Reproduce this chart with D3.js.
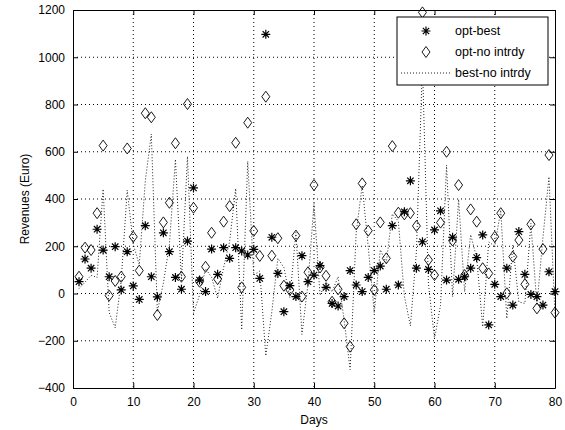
<!DOCTYPE html>
<html>
<head>
<meta charset="utf-8">
<script src="https://cdn.jsdelivr.net/npm/d3@7"></script>
<style>
    body { margin: 0; background: #fff; }
    #chart { width: 565px; height: 430px; }
    text { font-family: "Liberation Sans", Arial, sans-serif; fill: #000; }
</style>
</head>
<body>
<div id="chart"></div>
<script>

// days 1..80
let days = [1,2,3,4,5,6,7,8,9,10,11,12,13,14,15,16,17,18,19,20,
    21,22,23,24,25,26,27,28,29,30,31,32,33,34,35,36,37,38,39,40,
    41,42,43,44,45,46,47,48,49,50,51,52,53,54,55,56,57,58,59,60,
    61,62,63,64,65,66,67,68,69,70,71,72,73,74,75,76,77,78,79,80];

// opt-best (stars)
let optBest = [50,146,107,272,184,71,198,15,177,32,-25,287,71,-14,257,177,68,18,222,447,
    57,8,188,81,194,149,194,180,163,187,64,1097,238,85,-77,33,-13,160,50,78,
    118,26,-42,-53,-13,97,36,8,68,97,116,18,287,36,346,477,107,219,102,269,
    350,57,238,60,71,107,152,248,-133,39,-13,107,-49,262,81,-4,-13,-49,92,8];

// opt-no intrdy (diamonds)
let optNoIntrdy = [71,194,184,340,626,-9,53,71,614,240,97,763,746,-91,301,384,636,71,802,363,
    50,113,257,61,304,370,638,26,723,265,159,833,160,234,33,15,245,-13,90,459,
    110,75,-35,18,-126,-225,293,466,266,15,301,149,624,342,335,340,286,1190,142,78,
    300,600,224,459,78,356,304,107,85,240,340,1,156,226,39,293,-63,188,586,-81];

// best-no intrdy (dotted line)
let bestNoIntrdy = [21,48,77,68,442,-80,-145,56,437,208,122,476,675,-77,44,207,568,53,580,-84,
    -7,105,69,-20,110,221,444,-154,560,78,95,-264,-78,149,110,-18,258,-173,40,381,
    -8,49,7,71,-113,-322,257,458,198,-82,185,131,337,306,-11,-137,179,971,40,-191,
    -50,543,-14,399,7,249,152,-141,218,201,353,-106,205,-36,-42,297,-50,237,494,-89];

let xTicks = [0,10,20,30,40,50,60,70,80];
let yTicks = [-400,-200,0,200,400,600,800,1000,1200];

let legendLabels = ['opt-best', 'opt-no intrdy', 'best-no intrdy'];


class RevenueChart {

    constructor(parentElement) {
        this.parentElement = parentElement;
        this.initVis();
    }

    initVis() {
        let vis = this;

        // margin conventions (box of the matlab axes)
        vis.margin = {top: 10, right: 10, bottom: 42, left: 73};
        vis.width = 565 - vis.margin.left - vis.margin.right;
        vis.height = 430 - vis.margin.top - vis.margin.bottom;

        vis.svg = d3.select("#" + vis.parentElement).append("svg")
            .attr("width", 565)
            .attr("height", 430)
            .append("g")
            .attr("transform", "translate(" + vis.margin.left + "," + vis.margin.top + ")");

        vis.x = d3.scaleLinear().domain([0, 80]).range([0, vis.width]);
        vis.y = d3.scaleLinear().domain([-400, 1200]).range([vis.height, 0]);

        // star and diamond marker paths
        vis.star = "M-4.5,0H4.5M0,-4.5V4.5M-3.2,-3.2L3.2,3.2M-3.2,3.2L3.2,-3.2";
        vis.diamond = "M0,-5.5L4,0L0,5.5L-4,0Z";

        vis.wrangleData();
    }

    wrangleData() {
        let vis = this;

        vis.displayData = days.map((d, i) => ({
            day: d,
            best: optBest[i],
            noIntrdy: optNoIntrdy[i],
            diff: bestNoIntrdy[i]
        }));

        vis.updateVis();
    }

    updateVis() {
        let vis = this;

        // grid
        vis.svg.append("g").selectAll("line.vgrid")
            .data(xTicks.slice(1, -1))
            .enter().append("line")
            .attr("x1", d => vis.x(d)).attr("x2", d => vis.x(d))
            .attr("y1", 0).attr("y2", vis.height)
            .attr("stroke", "#000").attr("stroke-width", 1)
            .attr("stroke-dasharray", "1,3");

        vis.svg.append("g").selectAll("line.hgrid")
            .data(yTicks.slice(1, -1))
            .enter().append("line")
            .attr("x1", 0).attr("x2", vis.width)
            .attr("y1", d => vis.y(d)).attr("y2", d => vis.y(d))
            .attr("stroke", "#000").attr("stroke-width", 1)
            .attr("stroke-dasharray", "1,3");

        // dotted difference line
        let line = d3.line()
            .x(d => vis.x(d.day))
            .y(d => vis.y(d.diff));

        vis.svg.append("path")
            .datum(vis.displayData)
            .attr("d", line)
            .attr("fill", "none")
            .attr("stroke", "#222")
            .attr("stroke-width", 1)
            .attr("stroke-dasharray", "1,2");

        // diamonds
        vis.svg.append("g").selectAll("path")
            .data(vis.displayData)
            .enter().append("path")
            .attr("d", vis.diamond)
            .attr("transform", d => `translate(${vis.x(d.day)},${vis.y(d.noIntrdy)})`)
            .attr("fill", "none")
            .attr("stroke", "#000")
            .attr("stroke-width", 0.9);

        // stars
        vis.svg.append("g").selectAll("path")
            .data(vis.displayData)
            .enter().append("path")
            .attr("d", vis.star)
            .attr("transform", d => `translate(${vis.x(d.day)},${vis.y(d.best)})`)
            .attr("fill", "none")
            .attr("stroke", "#000")
            .attr("stroke-width", 1.2);

        // axes (ticks inside, mirrored on top/right)
        let fmt = d3.format("d");
        vis.svg.append("g")
            .attr("transform", "translate(0," + vis.height + ")")
            .call(d3.axisBottom(vis.x).tickValues(xTicks).tickFormat(fmt).tickSizeInner(-5).tickSizeOuter(0).tickPadding(9));
        vis.svg.append("g")
            .call(d3.axisTop(vis.x).tickValues(xTicks).tickSizeInner(-5).tickSizeOuter(0).tickFormat(""));
        vis.svg.append("g")
            .call(d3.axisLeft(vis.y).tickValues(yTicks).tickFormat(fmt).tickSizeInner(-5).tickSizeOuter(0).tickPadding(8));
        vis.svg.append("g")
            .attr("transform", "translate(" + vis.width + ",0)")
            .call(d3.axisRight(vis.y).tickValues(yTicks).tickSizeInner(-5).tickSizeOuter(0).tickFormat(""));

        vis.svg.selectAll(".domain").attr("stroke", "#000");
        vis.svg.selectAll(".tick line").attr("stroke", "#000");
        vis.svg.selectAll(".tick text")
            .style("font-size", "12px")
            .style("font-family", "'Liberation Sans', Arial, sans-serif");

        // axis labels
        vis.svg.append("text")
            .attr("x", vis.width / 2)
            .attr("y", vis.height + 36)
            .attr("text-anchor", "middle")
            .style("font-size", "12px")
            .text("Days");

        vis.svg.append("text")
            .attr("transform", `translate(-44,${vis.height / 2}) rotate(-90)`)
            .attr("text-anchor", "middle")
            .style("font-size", "12px")
            .text("Revenues (Euro)");

        // legend
        let legend = vis.svg.append("g")
            .attr("transform", "translate(" + (vis.width - 158) + ",7)");

        legend.append("rect")
            .attr("width", 151).attr("height", 68)
            .attr("fill", "#fff").attr("stroke", "#000");

        legend.append("path")
            .attr("d", vis.star)
            .attr("transform", "translate(29,14)")
            .attr("fill", "none").attr("stroke", "#000").attr("stroke-width", 1.2);
        legend.append("path")
            .attr("d", vis.diamond)
            .attr("transform", "translate(29,35)")
            .attr("fill", "none").attr("stroke", "#000").attr("stroke-width", 0.9);
        legend.append("line")
            .attr("x1", 4).attr("x2", 55).attr("y1", 56).attr("y2", 56)
            .attr("stroke", "#222").attr("stroke-dasharray", "1,2");

        legend.selectAll("text.leg")
            .data(legendLabels)
            .enter().append("text")
            .attr("x", 58)
            .attr("y", (d, i) => 14 + i * 21)
            .attr("dy", "0.35em")
            .style("font-size", "12.5px")
            .text(d => d);
    }
}

new RevenueChart("chart");
</script>
</body>
</html>
